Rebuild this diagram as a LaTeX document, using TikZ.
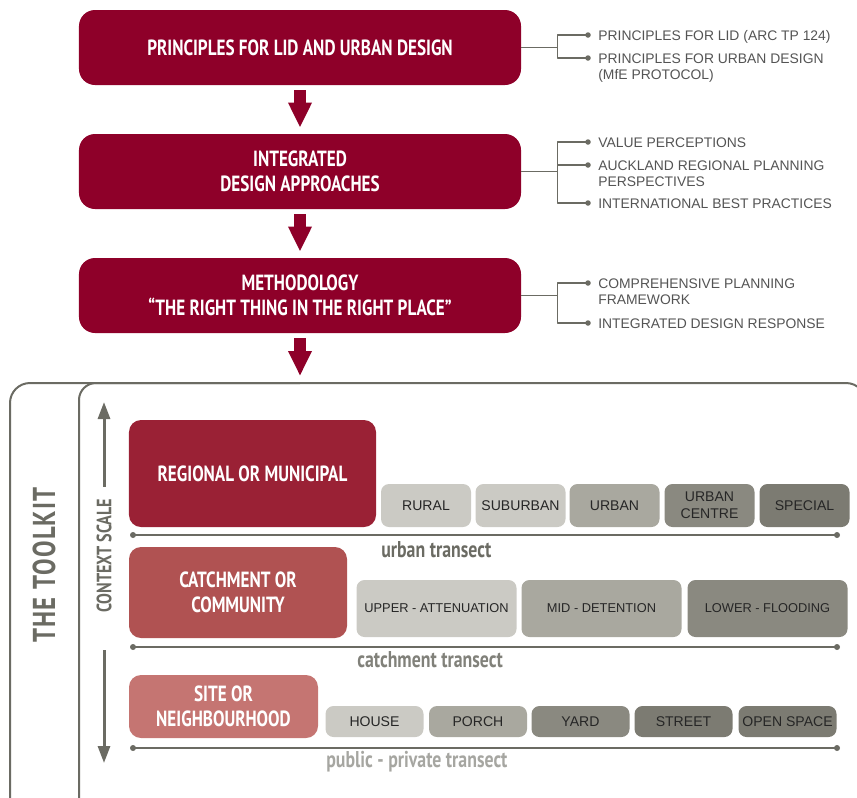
\documentclass[tikz,border=0pt]{standalone}
\usepackage{fontspec}
\setmainfont{Liberation Sans}
\newfontfamily\dinfont[FakeStretch=0.78]{PT Sans}
\usetikzlibrary{arrows.meta,positioning}
\definecolor{wine}{HTML}{8E0029}
\definecolor{regional}{HTML}{9A2135}
\definecolor{catchment}{HTML}{B05252}
\definecolor{site}{HTML}{C57572}
\definecolor{greyA}{HTML}{CBCAC4}
\definecolor{greyB}{HTML}{A9A89F}
\definecolor{greyC}{HTML}{8A8980}
\definecolor{greyD}{HTML}{7C7B72}
\definecolor{ink}{HTML}{6B6B63}
\definecolor{listgrey}{HTML}{545454}
\begin{document}
\begin{tikzpicture}[x=0.2mm,y=-0.2mm, line join=round, line cap=round,
  head/.style={fill=wine, text=white, rounded corners=3.2mm, minimum width=88.4mm, minimum height=15mm, align=center, inner sep=0pt, font=\dinfont\bfseries\fontsize{12.5}{14.2}\selectfont},
  level/.style={text=white, rounded corners=2.4mm, align=center, inner sep=0pt, font=\dinfont\bfseries\fontsize{12.5}{14.2}\selectfont},
  zone/.style={rounded corners=1.6mm, align=center, inner sep=0pt, text=black!85, font=\fontsize{8}{9.6}\selectfont},
  item/.style={anchor=north west, inner sep=0pt, align=left, text=listgrey, font=\fontsize{7.9}{9.1}\selectfont},
  conn/.style={ink, line width=0.3mm, line cap=butt},
  frame/.style={ink, line width=0.4mm},
  bigarrow/.style={wine, line width=2.4mm, line cap=butt, -{Triangle[length=5mm,width=4.4mm]}, shorten <=1mm},
  scalearrow/.style={ink, line width=0.6mm, line cap=butt, -{Triangle[length=3.4mm,width=2.4mm]}},
  transect/.style={ink, line width=0.4mm},
  tlabel/.style={anchor=west, inner sep=0pt, font=\dinfont\bfseries\fontsize{13}{15}\selectfont}]
\useasboundingbox (0,0) rectangle (857,797);
\clip (0,0) rectangle (857,797);
\node[head] (h1) at (300,47.5) {PRINCIPLES FOR LID AND URBAN DESIGN};
\node[head] (h2) at (300,171.5) {INTEGRATED\\DESIGN APPROACHES};
\node[head] (h3) at (300,295.5) {METHODOLOGY\\“THE RIGHT THING IN THE RIGHT PLACE”};
\coordinate (kit) at (300,383);
\draw[bigarrow, shorten >=1.2mm] (h1) -- (h2);
\draw[bigarrow, shorten >=1.2mm] (h2) -- (h3);
\draw[bigarrow, shorten >=1.4mm] (h3) -- (kit);
\foreach \h/\n/\y/\t in {h1/a1/30/PRINCIPLES FOR LID (ARC TP 124), h1/a2/53/PRINCIPLES FOR URBAN DESIGN\\(MfE PROTOCOL),
  h2/b1/137/VALUE PERCEPTIONS, h2/b2/160/AUCKLAND REGIONAL PLANNING\\PERSPECTIVES, h2/b3/198/INTERNATIONAL BEST PRACTICES,
  h3/c1/278/COMPREHENSIVE PLANNING\\FRAMEWORK, h3/c2/318/INTEGRATED DESIGN RESPONSE}{
  \node[item] (\n) at (598,\y) {\t};
  \draw[conn] (\h.east) -- ++(36,0) |- ([xshift=-2mm,yshift=-1mm]\n.north west);
  \fill[ink] ([xshift=-2mm,yshift=-1mm]\n.north west) circle (0.55mm);}
\draw[frame, rounded corners=4mm] (10,830) -- (10,383) -- (866,383) -- (866,830);
\draw[frame, rounded corners=3.4mm] (79,830) -- (79,383) -- (300,383);
\node[rotate=90, inner sep=0pt, text=ink, font=\dinfont\bfseries\fontsize{18}{20}\selectfont\addfontfeature{LetterSpace=4}] (toolkit) at (44,565) {THE TOOLKIT};
\node[rotate=90, inner sep=0pt, text=ink, font=\dinfont\bfseries\fontsize{11.8}{13}\selectfont] (ctx) at (104,556) {CONTEXT SCALE};
\coordinate (top) at (104,402);
\coordinate (bot) at (104,763);
\draw[scalearrow, shorten <=2.4mm] (ctx.east) -- (top);
\draw[scalearrow, shorten <=7.4mm] (ctx.west) -- (bot);
\node[level, fill=regional, minimum width=49.4mm, minimum height=21.4mm] (reg) at (252.5,473.5) {REGIONAL OR MUNICIPAL};
\node[level, fill=catchment, minimum width=43.6mm, minimum height=18.2mm] (cat) at (238,592.5) {CATCHMENT OR\\COMMUNITY};
\node[level, fill=site, minimum width=37.8mm, minimum height=12.6mm] (site) at (223.5,706.5) {SITE OR\\NEIGHBOURHOOD};
\foreach \n/\x/\c/\t in {rural/426/greyA/RURAL, suburban/520.5/greyA/SUBURBAN, urban/614.5/greyB/URBAN,
  centre/709.5/greyC/URBAN\\CENTRE, special/804.5/greyD/SPECIAL}
  \node[zone, fill=\c, minimum width=18mm, minimum height=8.6mm] (\n) at (\x,505.5) {\t};
\foreach \n/\x/\c/\t in {upper/436.5/greyA/UPPER - ATTENUATION, mid/601.5/greyB/MID - DETENTION, lower/767.5/greyC/LOWER - FLOODING}
  \node[zone, fill=\c, minimum width=32mm, minimum height=11.4mm, font=\fontsize{7.3}{9}\selectfont] (\n) at (\x,608.5) {\t};
\foreach \n/\x/\c/\t in {house/374.5/greyA/HOUSE, porch/478/greyB/PORCH, yard/580.5/greyC/YARD,
  street/683.5/greyD/STREET, openspace/787.5/greyD/OPEN SPACE}
  \node[zone, fill=\c, minimum width=19.6mm, minimum height=6.2mm] (\n) at (\x,721.5) {\t};
\foreach \y/\n in {535/u,647/c,748/p}{
  \coordinate (\n0) at (133,\y);
  \coordinate (\n1) at (837,\y);
  \draw[transect] (\n0) -- (\n1);
  \fill[ink] (\n0) circle (0.6mm);
  \fill[ink] (\n1) circle (0.6mm);}
\node[tlabel, text=ink] (ulabel) at (381,550) {urban transect};
\node[tlabel, text=ink!85] (clabel) at (357,660) {catchment transect};
\node[tlabel, text=ink!60] (plabel) at (326,762) {public - private transect};
\end{tikzpicture}
\end{document}
